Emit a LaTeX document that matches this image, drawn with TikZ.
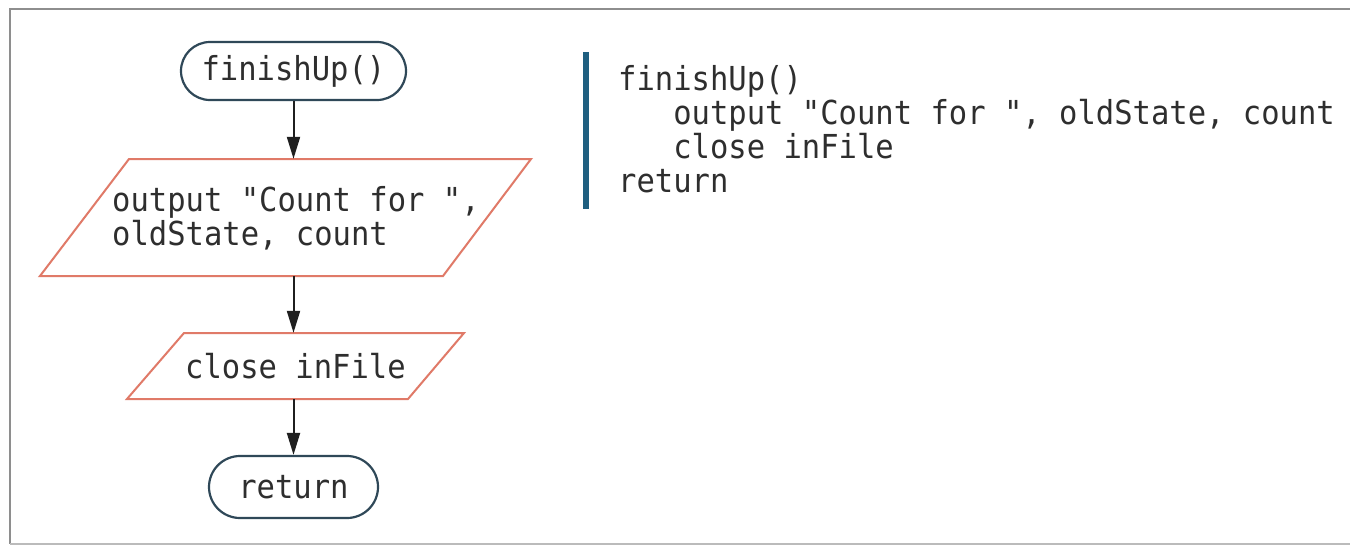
\documentclass[tikz,border=0pt]{standalone}
\usepackage{fontspec}
\newfontfamily\codefont[FakeStretch=0.925]{DejaVu Sans Mono}
\usetikzlibrary{arrows.meta,shapes.misc}
\definecolor{framegray}{HTML}{8E8E8E}
\definecolor{termline}{HTML}{2F4858}
\definecolor{ioline}{HTML}{E07A68}
\definecolor{barblue}{HTML}{1F5F80}
\definecolor{inktext}{HTML}{2E2E2E}
\tikzset{
  codetext/.style={font=\codefont\fontsize{33}{34}\selectfont, text=inktext, inner sep=0pt},
  terminal/.style={rounded rectangle, draw=termline, line width=2.2pt, fill=white,
                   codetext},
  ioshape/.style={draw=ioline, line width=2pt, line join=miter},
  flow/.style={draw=black!88, line width=2pt, -{Triangle[length=22pt,width=13pt]}},
}
\begin{document}
\begin{tikzpicture}[x=1pt,y=-1pt]
\useasboundingbox (0,0) rectangle (1350,546);
\clip (0,0) rectangle (1350,546);
\fill[white] (0,0) rectangle (1350,546);
% outer frame, open to the right
\draw[framegray, line width=2.6pt] (1350,9) -- (10,9) -- (10,544);
\draw[framegray!60, line width=1.5pt] (10,544) -- (1350,544);

% terminals
\node[terminal, minimum width=225pt, minimum height=58pt] (start) at (293.5,71) {finishUp()};
\node[terminal, minimum width=169pt, minimum height=62pt] (stop) at (293.5,487) {return};

% input/output parallelograms (invisible anchor boxes + outlines)
\node[minimum width=300pt, minimum height=117pt, inner sep=0pt] (out) at (286,217.5) {};
\draw[ioshape] (129,159) -- (531,159) -- (443,276) -- (40,276) -- cycle;
\node[codetext, anchor=north west, align=left] (outtext) at (112,186)
  {output "Count for ",\\oldState, count};

\node[minimum width=200pt, minimum height=66pt, inner sep=0pt] (close) at (295.5,366) {};
\draw[ioshape] (184,333) -- (464,333) -- (408,399) -- (127,399) -- cycle;
\node[codetext] (closetext) at (295.5,366) {close inFile};

% flow arrows
\draw[flow] (start.south) -- (start.south |- out.north);
\draw[flow] (start.south |- out.south) -- (start.south |- close.north);
\draw[flow] (start.south |- close.south) -- (stop.north);

% pseudocode listing
\draw[barblue, line width=6pt] (586,52) -- (586,209);
\node[codetext, anchor=north west, align=left] (code) at (618,65)
  {finishUp()\\
   \phantom{xxx}output "Count for ", oldState, count\\
   \phantom{xxx}close inFile\\
   return};
\end{tikzpicture}
\end{document}
